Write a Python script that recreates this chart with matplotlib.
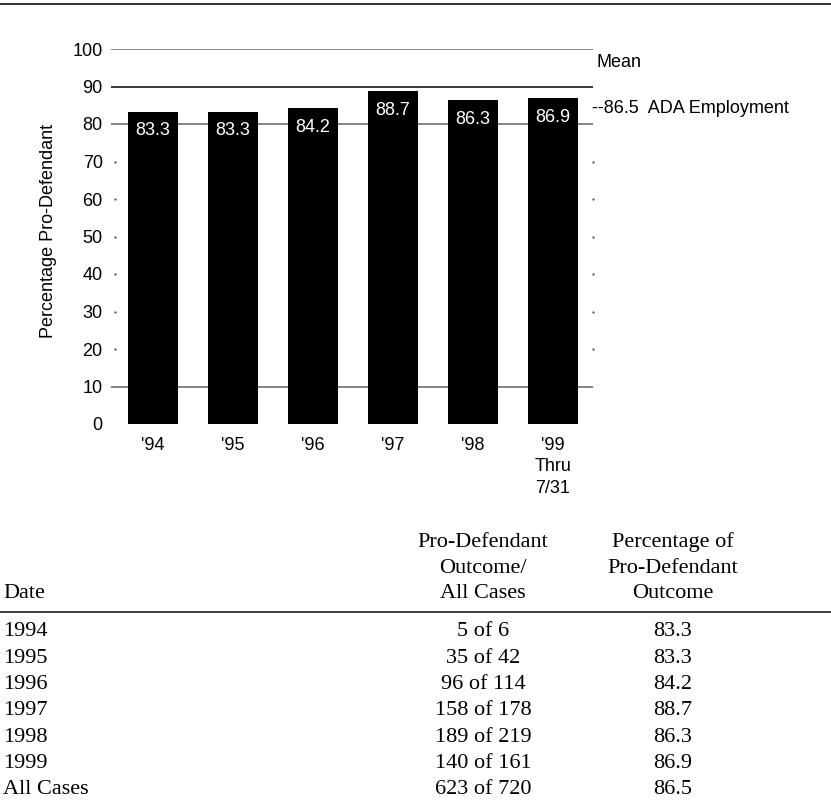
import matplotlib
matplotlib.use('Agg')
import matplotlib.pyplot as plt
from matplotlib.lines import Line2D

# Chart data
years = ["'94", "'95", "'96", "'97", "'98", "'99\nThru\n7/31"]
pct_pro_defendant = [83.3, 83.3, 84.2, 88.7, 86.3, 86.9]
mean_value = 86.5
full_grid = [10, 80, 90, 100]
dot_grid = [20, 30, 40, 50, 60, 70]

# Table data
table_dates = ['1994', '1995', '1996', '1997', '1998', '1999', 'All Cases']
table_counts = ['5 of 6', '35 of 42', '96 of 114', '158 of 178', '189 of 219',
                '140 of 161', '623 of 720']
table_pcts = ['83.3', '83.3', '84.2', '88.7', '86.3', '86.9', '86.5']

W, H = 831, 811
SANS = 'Liberation Sans'
SERIF = 'Liberation Serif'


def fx(px):
    return px / W


def fy(py):
    return 1 - py / H


fig = plt.figure(figsize=(W / 100, H / 100), dpi=100)

# Top rule
fig.add_artist(Line2D([0, 1], [fy(4), fy(4)], color='#222222', lw=1.3))

ax = fig.add_axes([fx(111), fy(424), fx(593 - 111), (424 - 49) / H])
x = range(len(years))
ax.bar(x, pct_pro_defendant, width=0.625, color='black', zorder=3)
ax.set_xlim(-0.525, 5.5)
ax.set_ylim(0, 100)

for v in full_grid:
    col = '#2a2a2a' if v == 90 else '#7a7a7a'
    ax.axhline(v, color=col, lw=1.3, zorder=1)
for v in dot_grid:
    ax.scatter([0.008, 1.0], [v, v], s=0.4, color='#555555',
               transform=ax.get_yaxis_transform(), zorder=1, clip_on=False)

for xi, v in zip(x, pct_pro_defendant):
    ax.annotate(f'{v}', xy=(xi, v), xytext=(0, -7.5), textcoords='offset points',
                ha='center', va='top', color='white', fontsize=13, family=SANS,
                zorder=4)

for s in ax.spines.values():
    s.set_visible(False)
ax.set_yticks([0, 10, 20, 30, 40, 50, 60, 70, 80, 90, 100])
ax.set_xticks(list(x))
ax.set_xticklabels(years, linespacing=1.38)
ax.tick_params(length=0, labelsize=13, pad=6)
ax.tick_params(axis='x', pad=9)
for lab in ax.get_xticklabels() + ax.get_yticklabels():
    lab.set_family(SANS)
ax.set_ylabel('Percentage Pro-Defendant', family=SANS, fontsize=13)
ax.yaxis.set_label_coords(-0.112, 0.515)

ax.text(1.008, 96.3, 'Mean', transform=ax.get_yaxis_transform(),
        va='center', ha='left', fontsize=13, family=SANS)
ax.text(0.998, mean_value, f'--{mean_value}  ADA Employment',
        transform=ax.get_yaxis_transform(), va='top', ha='left',
        fontsize=13, family=SANS)

# Table below the chart
tfs = 16
fig.text(fx(3), fy(598), 'Date', family=SERIF, fontsize=tfs,
         ha='left', va='baseline')
fig.text(fx(483), fy(598), 'Pro-Defendant\nOutcome/\nAll Cases', family=SERIF,
         fontsize=tfs, ha='center', va='baseline', linespacing=1.46,
         multialignment='center')
fig.text(fx(673), fy(598), 'Percentage of\nPro-Defendant\nOutcome', family=SERIF,
         fontsize=tfs, ha='center', va='baseline', linespacing=1.46,
         multialignment='center')
fig.add_artist(Line2D([0, 1], [fy(612), fy(612)], color='#333333', lw=1.3))

row0, step = 632, 26.3
for i, (d, c, p) in enumerate(zip(table_dates, table_counts, table_pcts)):
    yy = fy(row0 + i * step)
    fig.text(fx(3), yy, d, family=SERIF, fontsize=tfs, ha='left', va='center')
    fig.text(fx(483), yy, c, family=SERIF, fontsize=tfs, ha='center', va='center')
    fig.text(fx(673), yy, p, family=SERIF, fontsize=tfs, ha='center', va='center')

fig.savefig('out.png', dpi=100, facecolor='white')
